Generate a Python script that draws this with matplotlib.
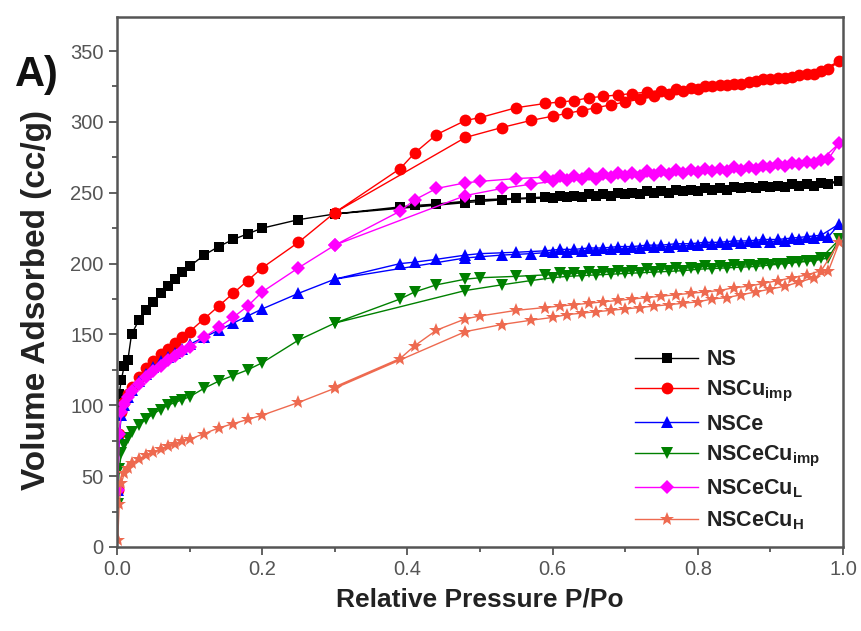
import matplotlib
matplotlib.use("Agg")
import matplotlib.pyplot as plt
import numpy as np

plt.rcParams['font.family'] = ['Liberation Sans', 'DejaVu Sans']
plt.rcParams['mathtext.default'] = 'regular'

# relative pressure points, adsorption branch then desorption branch
ads_p = [0.001, 0.003, 0.006, 0.01, 0.015, 0.02, 0.03, 0.04, 0.05, 0.06, 0.07,
         0.08, 0.09, 0.10, 0.12, 0.14, 0.16, 0.18, 0.20, 0.25, 0.30, 0.48, 0.53,
         0.57, 0.60, 0.62, 0.64, 0.66, 0.68, 0.70, 0.72, 0.74, 0.76, 0.78, 0.80,
         0.82, 0.84, 0.86, 0.88, 0.90, 0.92, 0.94, 0.96, 0.98, 0.995]
des_p = [0.97, 0.95, 0.93, 0.91, 0.89, 0.87, 0.85, 0.83, 0.81, 0.79, 0.77, 0.75,
         0.73, 0.71, 0.69, 0.67, 0.65, 0.63, 0.61, 0.59, 0.55, 0.50, 0.48, 0.44,
         0.41, 0.39, 0.30]

ns_ads = [97, 108, 118, 128, 132, 150, 160, 167, 173, 179, 184, 189, 194, 198,
          206, 212, 217, 221, 225, 231, 235, 243, 245, 246, 246, 247, 247, 248,
          248, 249, 249, 250, 250, 251, 251, 252, 252, 253, 253, 254, 254, 255,
          255, 256, 258]
ns_des = [257, 256, 256, 255, 255, 254, 254, 253, 253, 252, 252, 251, 251, 250,
          250, 249, 249, 248, 248, 247, 246, 245, 244, 242, 241, 240, 235]

cu_ads = [40, 80, 95, 102, 108, 113, 120, 126, 131, 136, 140, 144, 148, 152,
          161, 170, 179, 188, 197, 215, 236, 289, 296, 301, 304, 306, 308, 310,
          312, 314, 316, 318, 320, 322, 323, 325, 326, 327, 329, 330, 331, 333,
          334, 337, 343]
cu_des = [336, 334, 332, 331, 330, 328, 327, 326, 325, 324, 323, 322, 321, 320,
          319, 318, 317, 315, 314, 313, 310, 303, 301, 291, 278, 267, 236]

ce_ads = [40, 78, 93, 100, 106, 111, 117, 122, 127, 131, 134, 137, 140, 143,
          148, 153, 158, 163, 168, 179, 189, 204, 206, 207, 208, 208.5, 209,
          209.5, 210, 210.5, 211, 211.5, 212, 212.5, 213, 213.5, 214, 214.5,
          215, 215.5, 216, 217, 218, 219, 228]
ce_des = [220, 219, 218, 217, 217, 216, 216, 215, 215, 214, 214, 213, 213, 212,
          212, 211, 211, 210, 210, 209, 208, 207, 206, 203, 201, 200, 189]

ceimp_ads = [30, 55, 66, 72, 77, 81, 86, 90, 94, 97, 100, 102, 104, 106, 112,
             117, 121, 125, 130, 146, 158, 181, 185, 188, 190, 191, 191.5, 192,
             192.5, 193, 193.5, 194, 194.5, 195, 196, 196.5, 197, 197.5, 198,
             199, 200, 201, 202, 204, 217]
ceimp_des = [204, 202, 201, 200, 200, 199, 199, 198, 198, 197, 197, 196, 196,
             195, 195, 194, 194, 193, 193, 192, 191, 190, 189, 185, 180, 175, 158]

cel_ads = [40, 80, 95, 101, 106, 110, 115, 120, 124, 128, 132, 135, 138, 141,
           148, 155, 162, 170, 180, 197, 213, 248, 253, 256, 258, 259, 259.5,
           260, 261, 261.5, 262, 262.5, 263, 264, 264.5, 265, 265.5, 266, 267,
           268, 269, 270, 271, 274, 285]
cel_des = [273, 272, 271, 270, 269, 268, 268, 267, 267, 266, 266, 265, 265, 264,
           264, 263, 263, 262, 262, 261, 260, 258, 257, 253, 245, 237, 213]

ceh_ads = [5, 30, 45, 52, 56, 59, 62, 65, 67, 69, 71, 73, 75, 76, 80, 84, 87,
           90, 93, 102, 112, 152, 157, 160, 162, 164, 165, 166, 167, 168, 169,
           170, 171, 172, 173, 175, 176, 178, 180, 182, 184, 187, 190, 195, 215]
ceh_des = [195, 192, 190, 188, 186, 184, 183, 181, 180, 179, 178, 177, 176, 175,
           174, 173, 172, 171, 170, 169, 167, 163, 161, 153, 142, 133, 113]

labels = ['NS', r'NSCu$_{\mathregular{imp}}$', 'NSCe', r'NSCeCu$_{\mathregular{imp}}$',
          r'NSCeCu$_{\mathregular{L}}$', r'NSCeCu$_{\mathregular{H}}$']

series = [
    (ns_ads, ns_des, '#000000', 's', 7.5),
    (cu_ads, cu_des, '#ff0000', 'o', 8.5),
    (ce_ads, ce_des, '#0000ff', '^', 8),
    (ceimp_ads, ceimp_des, '#008000', 'v', 8),
    (cel_ads, cel_des, '#ff00ff', 'D', 7),
    (ceh_ads, ceh_des, '#ee6a50', '*', 10),
]

fig = plt.figure(figsize=(8.62, 6.31), dpi=100)
ax = fig.add_axes([117 / 862, 84 / 631, 726 / 862, 530 / 631])

p_all = np.array(ads_p + des_p)
for (a, d, col, mk, ms), lab in zip(series, labels):
    v = np.array(a + d)
    ax.plot(p_all, v, color=col, marker=mk, markersize=ms, lw=1.0,
            markeredgewidth=0, label=lab)

ax.set_xlim(0, 1.0)
ax.set_ylim(0, 374)
ax.set_xticks(np.arange(0, 1.01, 0.2))
ax.set_xticks(np.arange(0.1, 1.0, 0.2), minor=True)
ax.set_yticks(np.arange(0, 351, 50))
ax.set_yticks(np.arange(25, 351, 50), minor=True)
ax.xaxis.set_major_formatter(matplotlib.ticker.FormatStrFormatter('%.1f'))

for s in ax.spines.values():
    s.set_linewidth(1.8)
    s.set_color('#555555')
ax.tick_params(which='both', direction='out', color='#555555', width=1.3,
               labelsize=14.5, labelcolor='#555555', top=False, right=False)
ax.tick_params(which='major', length=6)
ax.tick_params(which='minor', length=3.5)

ax.set_xlabel('Relative Pressure P/Po', fontsize=19, fontweight='bold',
              color='#222222', labelpad=6)
ax.set_ylabel('Volume Adsorbed (cc/g)', fontsize=24, fontweight='bold',
              color='#222222')
ax.yaxis.set_label_coords(-0.089, 0.466)

fig.text(15 / 862, 1 - 86 / 631, 'A)', fontsize=30, fontweight='bold',
         color='#111111')

leg = ax.legend(loc='lower right', bbox_to_anchor=(0.99, 0.0), frameon=False,
                fontsize=15.5, handlelength=2.9, labelspacing=0.42,
                handletextpad=0.4, borderaxespad=0.3)
for t in leg.get_texts():
    t.set_fontweight('bold')
    t.set_color('#222222')

fig.savefig('out.png', dpi=100)
